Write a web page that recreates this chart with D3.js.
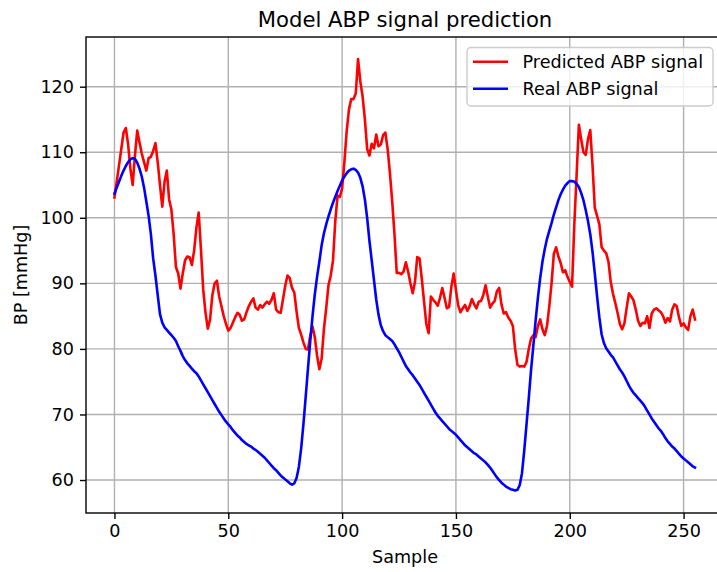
<!DOCTYPE html>
<html>
<head>
<meta charset="utf-8">
<script src="https://cdn.jsdelivr.net/npm/d3@7"></script>
<style>
  html, body { margin: 0; padding: 0; background: #fff; }
  svg { display: block; }
  text { font-family: "DejaVu Sans", sans-serif; fill: #000; }
</style>
</head>
<body>
<svg id="chart" width="717" height="572"></svg>
<script>
// ---- data ----
const chartTitle = "Model ABP signal prediction";
const xLabel = "Sample";
const yLabel = "BP [mmHg]";
const seriesNames = ["Predicted ABP signal", "Real ABP signal"];
const seriesColors = ["#ff0000", "#0000ff"];
const xTicks = [0, 50, 100, 150, 200, 250];
const yTicks = [60, 70, 80, 90, 100, 110, 120];

const predicted = [
103.1,105.5,108.0,110.5,113.0,113.7,111.2,107.5,105.0,109.5,
113.3,111.5,109.8,108.5,107.2,109.1,109.3,110.2,111.4,108.5,
105.0,101.7,105.5,107.2,102.8,101.3,97.5,92.5,91.5,89.2,
91.5,93.5,94.1,94.0,92.8,95.0,98.5,100.8,95.1,89.0,
85.5,83.1,84.5,88.2,90.0,90.4,88.0,86.5,85.0,83.8,
82.8,83.2,84.0,84.8,85.5,85.2,84.3,84.5,85.6,86.5,
87.2,87.7,86.3,86.0,86.7,86.3,86.8,87.2,86.9,87.5,
88.5,86.0,85.6,85.5,87.5,89.6,91.2,90.8,89.3,88.6,
85.7,83.2,82.2,81.0,80.0,79.9,82.0,83.4,81.8,79.0,
76.9,78.5,83.0,86.2,89.7,91.2,93.5,99.5,103.4,103.2,
104.5,108.5,113.2,116.5,118.1,118.1,119.0,124.2,120.8,118.5,
115.0,110.5,109.5,111.3,110.6,112.7,110.9,111.2,112.6,113.0,
110.5,106.8,102.5,97.5,91.6,91.6,91.4,91.8,93.2,91.8,
90.0,88.5,90.2,94.0,93.8,90.7,87.2,83.8,82.4,88.0,
87.5,87.1,86.6,87.8,89.3,87.8,86.2,86.4,89.5,91.5,
89.0,86.6,85.6,86.2,86.7,85.8,86.5,87.6,86.8,86.2,
87.2,87.3,88.2,89.7,88.0,86.3,86.9,87.3,88.8,89.3,
86.8,85.4,85.6,84.8,84.3,83.5,80.0,77.6,77.3,77.4,
77.3,78.0,80.0,81.6,82.1,81.8,83.5,84.5,83.0,82.1,
83.5,86.5,90.0,94.5,95.5,94.1,93.1,91.7,92.0,91.0,
90.2,89.5,99.0,106.5,114.2,112.0,110.0,109.6,112.0,113.4,
108.0,101.5,100.3,99.0,95.5,95.0,94.6,93.3,90.2,88.4,
87.0,85.5,83.8,83.0,83.9,86.3,88.5,88.0,87.4,86.0,
84.3,83.5,84.0,83.9,85.0,83.2,85.4,86.0,86.2,85.9,
85.6,85.0,84.0,84.7,84.2,86.0,86.8,86.5,84.8,83.5,
83.9,83.3,82.9,85.0,86.0,84.5
];

const real = [
103.7,104.6,105.5,106.4,107.2,107.9,108.5,108.9,109.1,109.0,
108.4,107.5,106.3,104.6,102.5,100.3,97.5,93.8,91.2,88.2,
85.3,84.0,83.3,82.9,82.5,82.1,81.7,81.2,80.4,79.7,
78.9,78.3,77.8,77.4,77.0,76.6,76.3,75.8,75.2,74.6,
74.0,73.4,72.8,72.2,71.6,71.0,70.4,69.9,69.4,68.9,
68.5,68.1,67.6,67.2,66.8,66.5,66.1,65.8,65.5,65.3,
65.1,64.8,64.6,64.3,64.0,63.7,63.4,63.0,62.6,62.2,
61.8,61.5,61.1,60.7,60.4,60.1,59.8,59.5,59.3,59.5,
60.3,62.0,64.8,68.5,72.7,77.0,81.2,85.0,88.3,91.0,
93.3,95.8,97.6,99.0,100.2,101.3,102.3,103.2,104.1,104.9,
105.7,106.3,106.8,107.2,107.4,107.5,107.3,106.9,106.1,104.8,
102.8,100.0,96.5,93.5,90.5,87.5,85.2,83.6,82.7,82.1,
81.8,81.5,81.2,80.7,80.1,79.5,78.8,78.1,77.4,76.9,
76.4,76.0,75.5,75.0,74.5,73.9,73.3,72.7,72.1,71.5,
70.9,70.3,69.8,69.4,69.0,68.6,68.2,67.8,67.5,67.2,
66.9,66.5,66.1,65.7,65.3,65.0,64.7,64.4,64.1,63.9,
63.6,63.3,63.0,62.7,62.3,61.9,61.4,60.9,60.4,60.0,
59.6,59.3,59.0,58.8,58.6,58.5,58.4,58.5,59.2,61.0,
64.5,68.5,72.5,76.8,80.5,84.3,87.8,90.8,93.3,95.2,
96.8,98.0,99.2,100.5,101.6,102.7,103.6,104.3,104.9,105.3,
105.6,105.6,105.5,105.2,104.7,103.8,102.7,101.2,99.5,97.5,
94.8,91.5,88.0,84.8,82.2,80.9,80.1,79.6,79.1,78.7,
78.1,77.5,76.9,76.4,75.8,75.1,74.4,73.8,73.3,72.9,
72.5,72.1,71.7,71.2,70.6,70.0,69.4,68.9,68.4,67.9,
67.5,67.0,66.4,65.9,65.5,65.1,64.8,64.4,64.0,63.6,
63.3,63.0,62.7,62.4,62.1,61.9
];

// ---- layout ----
const W = 717, H = 572;
const plot = { left: 86, right: 724, top: 37, bottom: 513 };
const fs = 17.6;      // tick / label / legend font size (px)
const titleFs = 21.2;

const svg = d3.select("#chart");

const x = d3.scaleLinear().domain([-12.5, 267.75]).range([plot.left, plot.right]);
const y = d3.scaleLinear().domain([54.97, 127.58]).range([plot.bottom, plot.top]);

svg.append("defs").append("clipPath").attr("id", "clip")
  .append("rect")
  .attr("x", plot.left).attr("y", plot.top)
  .attr("width", plot.right - plot.left).attr("height", plot.bottom - plot.top);

// grid
const grid = svg.append("g").attr("class", "grid");
grid.selectAll("line.vx").data(xTicks).join("line")
  .attr("x1", d => x(d)).attr("x2", d => x(d))
  .attr("y1", plot.top).attr("y2", plot.bottom)
  .attr("stroke", "#b0b0b0").attr("stroke-width", 1.4);
grid.selectAll("line.hy").data(yTicks).join("line")
  .attr("x1", plot.left).attr("x2", plot.right)
  .attr("y1", d => y(d)).attr("y2", d => y(d))
  .attr("stroke", "#b0b0b0").attr("stroke-width", 1.4);

// lines
const idx = d3.range(predicted.length);
const lineGen = vals => d3.line()
  .x((d, i) => x(i))
  .y(d => y(d))(vals);

const lines = svg.append("g").attr("clip-path", "url(#clip)");
lines.append("path").attr("d", lineGen(predicted))
  .attr("fill", "none").attr("stroke", seriesColors[0])
  .attr("stroke-width", 2.6).attr("stroke-linejoin", "round").attr("stroke-linecap", "square");
lines.append("path").attr("d", lineGen(real))
  .attr("fill", "none").attr("stroke", seriesColors[1])
  .attr("stroke-width", 2.6).attr("stroke-linejoin", "round").attr("stroke-linecap", "square");

// axes
const xAxis = d3.axisBottom(x).tickValues(xTicks).tickSize(6).tickPadding(6).tickFormat(d3.format("d"));
const yAxis = d3.axisLeft(y).tickValues(yTicks).tickSize(6).tickPadding(6).tickFormat(d3.format("d"));

const gx = svg.append("g").attr("transform", `translate(0,${plot.bottom})`).call(xAxis);
const gy = svg.append("g").attr("transform", `translate(${plot.left},0)`).call(yAxis);
[gx, gy].forEach(g => {
  g.select(".domain").remove();
  g.selectAll(".tick line").attr("stroke", "#000").attr("stroke-width", 1.4);
  g.selectAll(".tick text").attr("font-size", fs).attr("fill", "#222")
    .style("font-family", "'DejaVu Sans', sans-serif");
});

// spines
svg.append("rect")
  .attr("x", plot.left).attr("y", plot.top)
  .attr("width", plot.right - plot.left).attr("height", plot.bottom - plot.top)
  .attr("fill", "none").attr("stroke", "#000").attr("stroke-width", 1.4);

// title & labels
svg.append("text").attr("x", (plot.left + plot.right) / 2).attr("y", 26.5)
  .attr("text-anchor", "middle").attr("font-size", titleFs).text(chartTitle);
svg.append("text").attr("x", (plot.left + plot.right) / 2).attr("y", 563)
  .attr("text-anchor", "middle").attr("font-size", fs).text(xLabel);
svg.append("text")
  .attr("transform", `translate(27,${(plot.top + plot.bottom) / 2}) rotate(-90)`)
  .attr("text-anchor", "middle").attr("font-size", fs).text(yLabel);

// legend
const leg = svg.append("g");
leg.append("rect").attr("x", 467).attr("y", 47.5).attr("width", 246).attr("height", 58.5)
  .attr("rx", 4).attr("fill", "#fff").attr("fill-opacity", 0.8)
  .attr("stroke", "#cccccc").attr("stroke-width", 1.4);
seriesNames.forEach((name, i) => {
  const ly = 61.7 + i * 27;
  leg.append("line").attr("x1", 473).attr("x2", 508).attr("y1", ly).attr("y2", ly)
    .attr("stroke", seriesColors[i]).attr("stroke-width", 2.6);
  leg.append("text").attr("x", 522.5).attr("y", ly + 6.3).attr("font-size", fs).text(name);
});
</script>
</body>
</html>
